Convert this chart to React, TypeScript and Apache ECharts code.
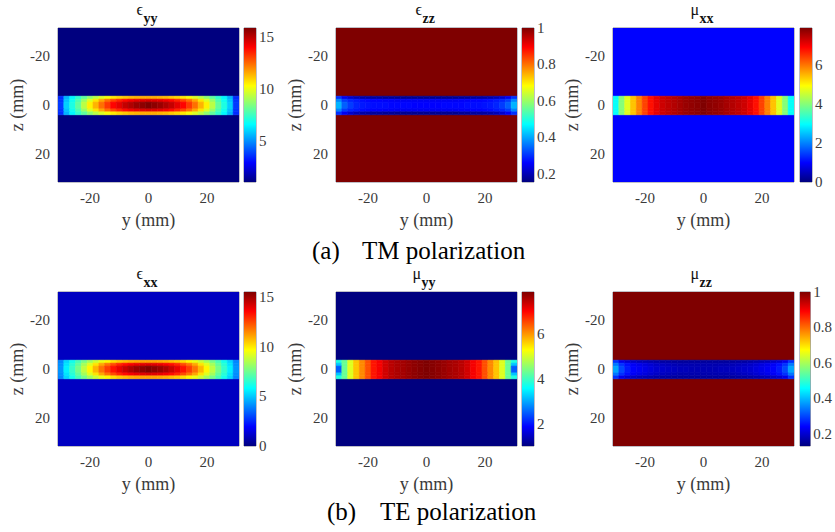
import React, { useEffect, useRef } from "react";
import * as echarts from "echarts";

// ---------- data ----------
const yCenters = [-30, -28, -26, -24, -22, -20, -18, -16, -14, -12, -10, -8, -6, -4, -2, 0, 2, 4, 6, 8, 10, 12, 14, 16, 18, 20, 22, 24, 26, 28, 30];
const bandEdges = [-3.6, -2.4, -1.2, 1.6, 2.8, 4.0];
const xTicks = [-20, 0, 20];
const zTicks = [-20, 0, 20];

// TM: eps_yy
const eyyEdge = [3.5, 5.5, 6.5, 7.3, 8.0, 8.7, 9.3, 9.8, 10.2, 10.6, 10.9, 11.1, 11.3, 11.4, 11.5, 11.5, 11.5, 11.4, 11.3, 11.1, 10.9, 10.6, 10.2, 9.8, 9.3, 8.7, 8.0, 7.3, 6.5, 5.5, 3.5];
const eyyInner = [3.6, 5.7, 6.8, 7.7, 8.8, 9.8, 10.7, 11.6, 12.4, 13.0, 13.5, 13.9, 14.2, 14.4, 14.5, 14.6, 14.5, 14.4, 14.2, 13.9, 13.5, 13.0, 12.4, 11.6, 10.7, 9.8, 8.8, 7.7, 6.8, 5.7, 3.6];
const eyyCenter = [3.7, 5.9, 7.0, 8.0, 9.3, 10.5, 11.4, 12.4, 13.2, 14.0, 14.4, 14.9, 15.2, 15.5, 15.7, 15.9, 15.7, 15.5, 15.2, 14.9, 14.4, 14.0, 13.2, 12.4, 11.4, 10.5, 9.3, 8.0, 7.0, 5.9, 3.7];
const eyyTicks = [5, 10, 15];

// TM: eps_zz
const ezzEdge = [0.3, 0.25, 0.22, 0.2, 0.19, 0.185, 0.18, 0.18, 0.175, 0.175, 0.17, 0.17, 0.17, 0.17, 0.17, 0.17, 0.17, 0.17, 0.17, 0.17, 0.17, 0.175, 0.175, 0.18, 0.18, 0.185, 0.19, 0.2, 0.22, 0.25, 0.3];
const ezzInner = [0.37, 0.31, 0.29, 0.28, 0.27, 0.265, 0.26, 0.26, 0.255, 0.255, 0.25, 0.25, 0.25, 0.25, 0.25, 0.25, 0.25, 0.25, 0.25, 0.25, 0.25, 0.255, 0.255, 0.26, 0.26, 0.265, 0.27, 0.28, 0.29, 0.31, 0.37];
const ezzCenter = [0.41, 0.34, 0.31, 0.29, 0.28, 0.275, 0.27, 0.27, 0.27, 0.265, 0.265, 0.265, 0.265, 0.26, 0.26, 0.26, 0.26, 0.26, 0.265, 0.265, 0.265, 0.265, 0.27, 0.27, 0.27, 0.275, 0.28, 0.29, 0.31, 0.34, 0.41];
const ezzTicks = [0.2, 0.4, 0.6, 0.8, 1];

// TM: mu_xx
const mxxRow = [3.0, 4.0, 4.7, 5.4, 5.9, 6.4, 6.8, 7.1, 7.3, 7.4, 7.5, 7.6, 7.7, 7.75, 7.8, 7.9, 7.8, 7.75, 7.7, 7.6, 7.5, 7.4, 7.3, 7.1, 6.8, 6.4, 5.9, 5.4, 4.7, 4.0, 3.0];
const mxxTicks = [0, 2, 4, 6];

// TE: eps_xx
const exxEdge = [4.0, 5.2, 6.1, 6.9, 7.6, 8.3, 8.9, 9.4, 9.8, 10.2, 10.5, 10.7, 10.9, 11.0, 11.1, 11.1, 11.1, 11.0, 10.9, 10.7, 10.5, 10.2, 9.8, 9.4, 8.9, 8.3, 7.6, 6.9, 6.1, 5.2, 4.0];
const exxInner = [4.1, 5.4, 6.4, 7.3, 8.3, 9.2, 10.1, 11.0, 11.8, 12.4, 13.0, 13.4, 13.7, 13.9, 14.0, 14.1, 14.0, 13.9, 13.7, 13.4, 13.0, 12.4, 11.8, 11.0, 10.1, 9.2, 8.3, 7.3, 6.4, 5.4, 4.1];
const exxCenter = [4.2, 5.6, 6.6, 7.6, 8.7, 9.8, 10.8, 11.8, 12.6, 13.3, 13.9, 14.4, 14.8, 15.1, 15.3, 15.5, 15.3, 15.1, 14.8, 14.4, 13.9, 13.3, 12.6, 11.8, 10.8, 9.8, 8.7, 7.6, 6.6, 5.6, 4.2];
const exxTicks = [0, 5, 10, 15];

// TE: mu_yy
const myyEdge = [3.8, 4.3, 5.1, 5.7, 6.1, 6.5, 6.9, 7.1, 7.35, 7.5, 7.6, 7.65, 7.73, 7.8, 7.85, 7.9, 7.85, 7.8, 7.73, 7.65, 7.6, 7.5, 7.35, 7.1, 6.9, 6.5, 6.1, 5.7, 5.1, 4.3, 3.8];
const myyInner = [3.2, 4.3, 5.1, 5.7, 6.1, 6.5, 6.9, 7.1, 7.35, 7.5, 7.6, 7.65, 7.73, 7.8, 7.85, 7.9, 7.85, 7.8, 7.73, 7.65, 7.6, 7.5, 7.35, 7.1, 6.9, 6.5, 6.1, 5.7, 5.1, 4.3, 3.2];
const myyCenter = [2.5, 4.3, 5.1, 5.7, 6.1, 6.5, 6.9, 7.1, 7.35, 7.5, 7.6, 7.65, 7.73, 7.8, 7.85, 7.9, 7.85, 7.8, 7.73, 7.65, 7.6, 7.5, 7.35, 7.1, 6.9, 6.5, 6.1, 5.7, 5.1, 4.3, 2.5];
const myyTicks = [2, 4, 6];

// TE: mu_zz
const mzzEdge = [0.28, 0.22, 0.2, 0.19, 0.18, 0.175, 0.17, 0.165, 0.16, 0.16, 0.155, 0.155, 0.155, 0.155, 0.155, 0.155, 0.155, 0.155, 0.155, 0.155, 0.155, 0.16, 0.16, 0.165, 0.17, 0.175, 0.18, 0.19, 0.2, 0.22, 0.28];
const mzzInner = [0.34, 0.28, 0.25, 0.23, 0.22, 0.21, 0.2, 0.19, 0.185, 0.18, 0.175, 0.17, 0.17, 0.17, 0.17, 0.17, 0.17, 0.17, 0.17, 0.17, 0.175, 0.18, 0.185, 0.19, 0.2, 0.21, 0.22, 0.23, 0.25, 0.28, 0.34];
const mzzCenter = [0.38, 0.3, 0.26, 0.24, 0.23, 0.22, 0.21, 0.2, 0.195, 0.19, 0.185, 0.18, 0.18, 0.175, 0.175, 0.175, 0.175, 0.175, 0.18, 0.18, 0.185, 0.19, 0.195, 0.2, 0.21, 0.22, 0.23, 0.24, 0.26, 0.3, 0.38];
const mzzTicks = [0.2, 0.4, 0.6, 0.8, 1];

const captions = [
  { tag: "(a)", text: "TM polarization" },
  { tag: "(b)", text: "TE polarization" },
];

// ---------- styling / layout ----------
const JET = ["#00007F", "#0000FF", "#007FFF", "#00FFFF", "#7FFF7F", "#FFFF00", "#FF7F00", "#FF0000", "#7F0000"];
const FONT = "Liberation Serif";
const TICK_COLOR = "#3a3a3a";
const FRAME = "#80808f";

type Panel = {
  main: string;
  sub: string;
  bg: number;
  rows: number[][];
  min: number;
  max: number;
  ticks: number[];
  mainDx: number;
  subDx: number;
};

const panels: Panel[] = [
  { main: "ϵ", sub: "yy", bg: 1, rows: [eyyEdge, eyyInner, eyyCenter, eyyInner, eyyEdge], min: 1, max: 15.9, ticks: eyyTicks, mainDx: -12, subDx: -5 },
  { main: "ϵ", sub: "zz", bg: 1, rows: [ezzEdge, ezzInner, ezzCenter, ezzInner, ezzEdge], min: 0.155, max: 1, ticks: ezzTicks, mainDx: -11, subDx: -4 },
  { main: "μ", sub: "xx", bg: 1, rows: [mxxRow, mxxRow, mxxRow, mxxRow, mxxRow], min: 0, max: 7.9, ticks: mxxTicks, mainDx: -13, subDx: -4 },
  { main: "ϵ", sub: "xx", bg: 1, rows: [exxEdge, exxInner, exxCenter, exxInner, exxEdge], min: 0, max: 15.5, ticks: exxTicks, mainDx: -12, subDx: -5 },
  { main: "μ", sub: "yy", bg: 1, rows: [myyEdge, myyInner, myyCenter, myyInner, myyEdge], min: 1, max: 7.9, ticks: myyTicks, mainDx: -14, subDx: -5 },
  { main: "μ", sub: "zz", bg: 1, rows: [mzzEdge, mzzInner, mzzCenter, mzzInner, mzzEdge], min: 0.13, max: 1, ticks: mzzTicks, mainDx: -13, subDx: -4 },
];

const PLOT_LEFT = [58, 336, 613];
const PLOT_W = 181;
const CB_LEFT = [244, 522, 800];
const CB_W = 12;
const ROW_TOP = [28, 292];
const PLOT_H = 154;
const CAPTION_POS = [
  { tagX: 312, textX: 362, y: 250 },
  { tagX: 327, textX: 380, y: 511 },
];

function buildCells(p: Panel): number[][] {
  const cells: number[][] = [];
  cells.push([-31, 31, -31.5, bandEdges[0], p.bg]);
  cells.push([-31, 31, bandEdges[bandEdges.length - 1], 31.5, p.bg]);
  p.rows.forEach((row, r) => {
    row.forEach((v, c) => {
      cells.push([yCenters[c] - 1, yCenters[c] + 1, bandEdges[r], bandEdges[r + 1], v]);
    });
  });
  return cells;
}

function rectFrom(api: any) {
  const p0 = api.coord([api.value(0), api.value(2)]);
  const p1 = api.coord([api.value(1), api.value(3)]);
  return {
    x: Math.min(p0[0], p1[0]),
    y: Math.min(p0[1], p1[1]),
    width: Math.abs(p1[0] - p0[0]),
    height: Math.abs(p1[1] - p0[1]),
  };
}

function buildOption() {
  const grid: any[] = [];
  const xAxis: any[] = [];
  const yAxis: any[] = [];
  const series: any[] = [];
  const visualMap: any[] = [];
  const graphic: any[] = [];

  const labelStyle = { color: TICK_COLOR, fontFamily: FONT, fontSize: 15 };
  const nameStyle = { color: TICK_COLOR, fontFamily: FONT, fontSize: 18 };

  panels.forEach((p, i) => {
    const col = i % 3;
    const row = Math.floor(i / 3);
    const left = PLOT_LEFT[col];
    const top = ROW_TOP[row];
    grid.push({ left, top, width: PLOT_W, height: PLOT_H, show: true, borderColor: FRAME, borderWidth: 1, backgroundColor: "transparent" });
    xAxis.push({
      gridIndex: i, type: "value", min: -31, max: 31,
      axisLabel: { ...labelStyle, customValues: xTicks, margin: 8 },
      axisTick: { show: false }, axisLine: { show: false }, splitLine: { show: false },
      name: "y (mm)", nameLocation: "middle", nameGap: 29, nameTextStyle: nameStyle,
    });
    yAxis.push({
      gridIndex: i, type: "value", inverse: true, min: -31.5, max: 31.5,
      axisLabel: { ...labelStyle, customValues: zTicks, margin: 8 },
      axisTick: { show: false }, axisLine: { show: false }, splitLine: { show: false },
      name: "z (mm)", nameLocation: "middle", nameGap: 29, nameRotate: 90, nameTextStyle: nameStyle,
    });
    series.push({
      type: "custom", xAxisIndex: i, yAxisIndex: i, silent: true, clip: true,
      data: buildCells(p),
      encode: { x: [0, 1], y: [2, 3] },
      renderItem: (_params: any, api: any) => {
        const color = api.visual("color");
        return { type: "rect", shape: rectFrom(api), style: { fill: color, stroke: color, lineWidth: 0.6 } };
      },
    });
    visualMap.push({ type: "continuous", show: false, seriesIndex: i, dimension: 4, min: p.min, max: p.max, inRange: { color: JET } });

    const cx = left + PLOT_W / 2;
    graphic.push({ type: "text", x: cx + p.mainDx, y: top - 19, style: { text: p.main, fontFamily: FONT, fontSize: 16, fill: "#111", align: "left", verticalAlign: "middle" } });
    graphic.push({ type: "text", x: cx + p.subDx, y: top - 9.5, style: { text: p.sub, fontFamily: FONT, fontSize: 14, fontWeight: "bold", fill: "#111", align: "left", verticalAlign: "middle" } });
  });

  panels.forEach((p, i) => {
    const col = i % 3;
    const row = Math.floor(i / 3);
    const gi = 6 + i;
    grid.push({ left: CB_LEFT[col], top: ROW_TOP[row], width: CB_W, height: PLOT_H, show: true, borderColor: FRAME, borderWidth: 1, backgroundColor: "transparent" });
    xAxis.push({ gridIndex: gi, type: "value", min: 0, max: 1, show: false });
    yAxis.push({
      gridIndex: gi, type: "value", position: "right", min: p.min, max: p.max,
      axisLabel: { ...labelStyle, customValues: p.ticks, margin: 3 },
      axisTick: { show: false }, axisLine: { show: false }, splitLine: { show: false },
    });
    series.push({
      type: "custom", xAxisIndex: gi, yAxisIndex: gi, silent: true,
      data: [[0, 1, p.min, p.max]],
      encode: { x: [0, 1], y: [2, 3] },
      renderItem: (_params: any, api: any) => ({
        type: "rect",
        shape: rectFrom(api),
        style: { fill: new echarts.graphic.LinearGradient(0, 1, 0, 0, JET.map((c, k) => ({ offset: k / (JET.length - 1), color: c }))) },
      }),
    });
  });

  captions.forEach((c, k) => {
    const pos = CAPTION_POS[k];
    graphic.push({ type: "text", x: pos.tagX, y: pos.y, style: { text: c.tag, fontFamily: FONT, fontSize: 25, fill: "#000", align: "left", verticalAlign: "middle" } });
    graphic.push({ type: "text", x: pos.textX, y: pos.y, style: { text: c.text, fontFamily: FONT, fontSize: 25, fill: "#000", align: "left", verticalAlign: "middle" } });
  });

  return { animation: false, backgroundColor: "#ffffff", textStyle: { fontFamily: FONT }, grid, xAxis, yAxis, series, visualMap, graphic };
}

export default function App() {
  const ref = useRef<HTMLDivElement>(null);
  useEffect(() => {
    if (!ref.current) return;
    const chart = echarts.init(ref.current, null, { renderer: "svg" });
    chart.setOption(buildOption() as any);
    return () => chart.dispose();
  }, []);
  return <div ref={ref} style={{ position: "absolute", left: 0, top: 0, width: 835, height: 532 }} />;
}
